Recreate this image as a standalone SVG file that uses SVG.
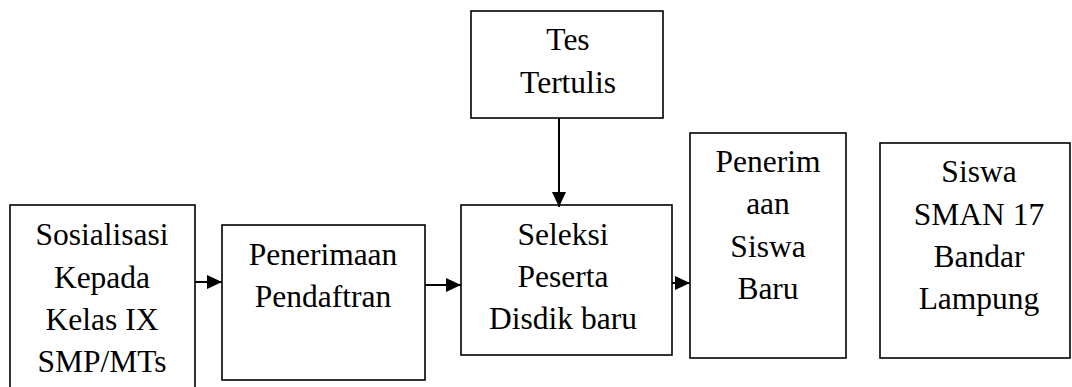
<svg xmlns="http://www.w3.org/2000/svg" width="1072" height="387" viewBox="0 0 1072 387">
<style>
.box{fill:#fff;stroke:#000;stroke-width:1.6}
.t{font-family:'Liberation Serif','Times New Roman','DejaVu Serif',serif;font-size:31.5px;fill:#000;text-anchor:middle}
.c{stroke:#000;stroke-width:2;fill:none}
</style>
<defs>
<marker id="ah" markerWidth="15" markerHeight="14" refX="15" refY="7" orient="auto" markerUnits="userSpaceOnUse" viewBox="0 0 15 14">
<path d="M0,0 L15,7 L0,14 z" fill="#000"/>
</marker>
</defs>
<rect width="1072" height="387" fill="#fff"/>
<g id="n1">
<rect class="box" x="10" y="205" width="185" height="200"/>
<text class="t" x="102" y="245">Sosialisasi</text>
<text class="t" x="102" y="288">Kepada</text>
<text class="t" x="102" y="330">Kelas IX</text>
<text class="t" x="102" y="372">SMP/MTs</text>
</g>
<g id="n2">
<rect class="box" x="222" y="225" width="203" height="155"/>
<text class="t" x="323" y="265">Penerimaan</text>
<text class="t" x="323" y="307">Pendaftran</text>
</g>
<g id="n3">
<rect class="box" x="471" y="11" width="192" height="107"/>
<text class="t" x="568" y="50">Tes</text>
<text class="t" x="568" y="93">Tertulis</text>
</g>
<g id="n4">
<rect class="box" x="461" y="205" width="211" height="150"/>
<text class="t" x="563" y="245">Seleksi</text>
<text class="t" x="563" y="287">Peserta</text>
<text class="t" x="563" y="329">Disdik baru</text>
</g>
<g id="n5">
<rect class="box" x="690" y="133" width="156" height="225"/>
<text class="t" x="768" y="172">Penerim</text>
<text class="t" x="768" y="214">aan</text>
<text class="t" x="768" y="257">Siswa</text>
<text class="t" x="768" y="299">Baru</text>
</g>
<g id="n6">
<rect class="box" x="880" y="143" width="190" height="215"/>
<text class="t" x="979" y="182">Siswa</text>
<text class="t" x="979" y="225">SMAN 17</text>
<text class="t" x="979" y="267">Bandar</text>
<text class="t" x="979" y="309">Lampung</text>
</g>
<g id="connectors">
<line class="c" x1="195" y1="282" x2="222" y2="282" marker-end="url(#ah)"/>
<line class="c" x1="425" y1="285" x2="461" y2="285" marker-end="url(#ah)"/>
<line class="c" x1="559" y1="118" x2="559" y2="207" marker-end="url(#ah)"/>
<line class="c" x1="672" y1="283" x2="690" y2="283" marker-end="url(#ah)"/>
</g>
</svg>
